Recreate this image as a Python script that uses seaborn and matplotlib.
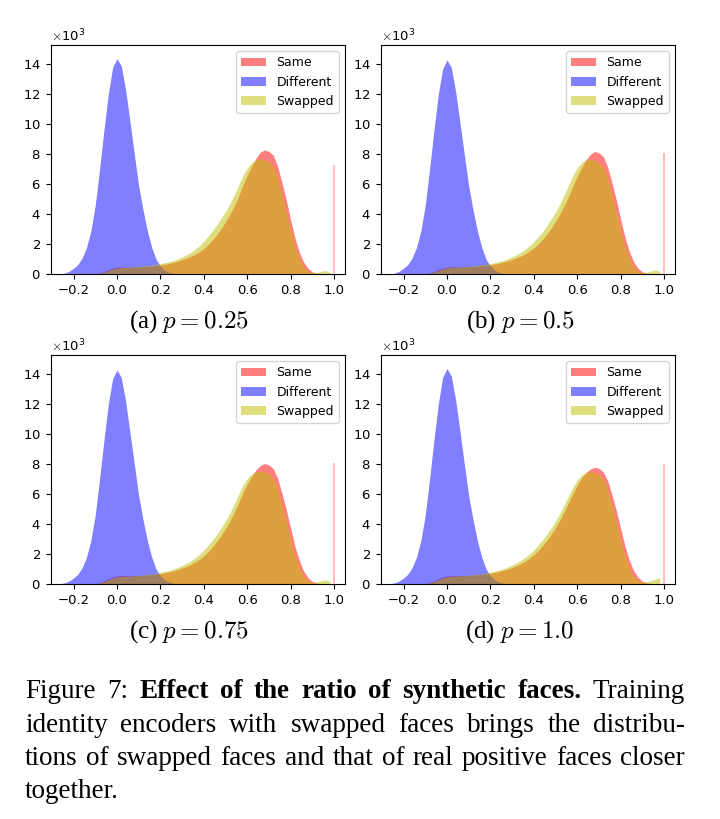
"""Figure 7 replica: cosine-similarity histograms of identity embeddings
for four ratios p of synthetic (swapped) faces."""

import numpy as np
import pandas as pd
import matplotlib
matplotlib.use('Agg')
import matplotlib.pyplot as plt
import seaborn as sns

plt.rcParams['mathtext.fontset'] = 'cm'

# ---- bin counts, in thousands -----------------------------------------------
diff_centers = np.round(np.arange(-0.26, 0.29, 0.02), 2)   # 28 bins
pos_centers = np.round(np.arange(-0.12, 0.99, 0.02), 2)    # 56 bins

different_a = [0.02, 0.08, 0.20, 0.40, 0.65, 1.10, 1.80, 2.90, 4.60, 7.00, 9.60, 12.0, 13.8, 14.4,
               13.9, 12.3, 10.2, 8.00, 5.90, 4.30, 2.90, 1.80, 1.00, 0.55, 0.28, 0.12, 0.05, 0.02]
different_b = [0.02, 0.08, 0.20, 0.40, 0.65, 1.10, 1.80, 2.90, 4.60, 7.00, 9.60, 12.0, 13.7, 14.3,
               13.8, 12.2, 10.1, 8.00, 5.90, 4.30, 2.90, 1.80, 1.00, 0.55, 0.28, 0.12, 0.05, 0.02]
different_c = [0.02, 0.08, 0.20, 0.40, 0.65, 1.10, 1.80, 2.90, 4.60, 7.00, 9.60, 12.0, 13.7, 14.3,
               13.8, 12.2, 10.1, 8.00, 5.90, 4.30, 2.90, 1.80, 1.00, 0.55, 0.28, 0.12, 0.05, 0.02]
different_d = [0.02, 0.08, 0.20, 0.40, 0.65, 1.10, 1.80, 2.90, 4.60, 7.00, 9.60, 12.0, 13.8, 14.4,
               13.9, 12.3, 10.2, 8.00, 5.90, 4.30, 2.90, 1.80, 1.00, 0.55, 0.28, 0.12, 0.05, 0.02]

same_a = [0.00, 0.03, 0.08, 0.18, 0.30, 0.40, 0.47, 0.48, 0.47, 0.47,
          0.48, 0.49, 0.50, 0.52, 0.55, 0.58, 0.62, 0.67, 0.73, 0.80,
          0.88, 0.98, 1.08, 1.20, 1.35, 1.52, 1.72, 1.98, 2.30, 2.65,
          3.05, 3.50, 4.00, 4.55, 5.20, 5.95, 6.60, 7.20, 7.75, 8.15,
          8.30, 8.20, 7.95, 7.20, 6.10, 4.95, 3.60, 2.40, 1.45, 0.80,
          0.40, 0.15, 0.06, 0.03, 0.02, 0.01]
same_b = [0.00, 0.03, 0.08, 0.18, 0.30, 0.40, 0.48, 0.50, 0.49, 0.49,
          0.50, 0.51, 0.52, 0.54, 0.57, 0.60, 0.64, 0.69, 0.75, 0.82,
          0.90, 1.00, 1.10, 1.22, 1.37, 1.55, 1.76, 2.02, 2.33, 2.68,
          3.08, 3.52, 4.02, 4.58, 5.20, 5.90, 6.55, 7.10, 7.62, 8.00,
          8.20, 8.10, 7.85, 7.15, 6.10, 4.95, 3.65, 2.45, 1.50, 0.82,
          0.40, 0.16, 0.06, 0.03, 0.02, 0.01]
same_c = [0.00, 0.03, 0.09, 0.20, 0.34, 0.46, 0.54, 0.56, 0.55, 0.55,
          0.55, 0.56, 0.57, 0.59, 0.62, 0.66, 0.70, 0.75, 0.81, 0.88,
          0.97, 1.07, 1.18, 1.31, 1.46, 1.65, 1.88, 2.15, 2.48, 2.85,
          3.25, 3.70, 4.20, 4.78, 5.42, 6.08, 6.70, 7.20, 7.62, 7.92,
          8.05, 7.95, 7.70, 7.05, 6.05, 4.95, 3.70, 2.50, 1.55, 0.85,
          0.42, 0.17, 0.07, 0.03, 0.02, 0.01]
same_d = [0.00, 0.03, 0.09, 0.20, 0.34, 0.46, 0.54, 0.56, 0.55, 0.55,
          0.56, 0.57, 0.58, 0.60, 0.63, 0.67, 0.71, 0.76, 0.83, 0.91,
          1.00, 1.10, 1.22, 1.36, 1.52, 1.72, 1.95, 2.22, 2.55, 2.92,
          3.32, 3.77, 4.27, 4.83, 5.45, 6.05, 6.62, 7.08, 7.44, 7.68,
          7.80, 7.72, 7.48, 6.90, 5.95, 4.90, 3.70, 2.52, 1.58, 0.88,
          0.44, 0.18, 0.07, 0.03, 0.02, 0.01]

# identical pairs pile up in one thin bin at similarity 1.0
spike_sim = 1.0
same_spike = [7.3, 8.1, 8.1, 8.0]

swapped_a = [0.00, 0.02, 0.06, 0.14, 0.25, 0.35, 0.42, 0.45, 0.46, 0.48,
             0.50, 0.52, 0.55, 0.58, 0.62, 0.66, 0.71, 0.77, 0.84, 0.92,
             1.03, 1.16, 1.30, 1.47, 1.68, 1.92, 2.20, 2.55, 2.90, 3.30,
             3.75, 4.20, 4.70, 5.30, 5.95, 6.60, 7.10, 7.45, 7.65, 7.70,
             7.65, 7.50, 7.20, 6.50, 5.30, 4.10, 2.90, 1.85, 1.05, 0.50,
             0.22, 0.10, 0.12, 0.20, 0.25, 0.15]
swapped_b = [0.00, 0.02, 0.06, 0.14, 0.25, 0.36, 0.44, 0.47, 0.48, 0.49,
             0.51, 0.53, 0.56, 0.59, 0.63, 0.67, 0.72, 0.78, 0.85, 0.93,
             1.04, 1.16, 1.30, 1.47, 1.67, 1.90, 2.18, 2.50, 2.85, 3.25,
             3.70, 4.15, 4.70, 5.30, 5.95, 6.60, 7.10, 7.45, 7.65, 7.70,
             7.60, 7.45, 7.15, 6.45, 5.30, 4.10, 2.90, 1.85, 1.05, 0.50,
             0.22, 0.10, 0.13, 0.22, 0.30, 0.20]
swapped_c = [0.00, 0.02, 0.07, 0.16, 0.28, 0.40, 0.48, 0.51, 0.52, 0.53,
             0.55, 0.57, 0.60, 0.63, 0.67, 0.72, 0.77, 0.84, 0.91, 1.00,
             1.11, 1.24, 1.38, 1.55, 1.75, 1.98, 2.26, 2.58, 2.93, 3.33,
             3.76, 4.22, 4.75, 5.35, 5.98, 6.60, 7.05, 7.35, 7.50, 7.55,
             7.50, 7.35, 7.05, 6.40, 5.30, 4.15, 2.95, 1.90, 1.08, 0.52,
             0.23, 0.10, 0.12, 0.20, 0.28, 0.18]
swapped_d = [0.00, 0.02, 0.07, 0.16, 0.28, 0.40, 0.48, 0.52, 0.53, 0.54,
             0.56, 0.58, 0.61, 0.64, 0.68, 0.73, 0.79, 0.86, 0.94, 1.03,
             1.14, 1.27, 1.41, 1.58, 1.78, 2.00, 2.28, 2.60, 2.95, 3.33,
             3.75, 4.20, 4.72, 5.30, 5.90, 6.48, 6.95, 7.28, 7.45, 7.50,
             7.45, 7.30, 7.00, 6.35, 5.30, 4.15, 2.95, 1.90, 1.08, 0.52,
             0.23, 0.12, 0.15, 0.24, 0.33, 0.42]

panel_labels = [r'(a) $p = 0.25$', r'(b) $p = 0.5$', r'(c) $p = 0.75$', r'(d) $p = 1.0$']
same_all = [same_a, same_b, same_c, same_d]
different_all = [different_a, different_b, different_c, different_d]
swapped_all = [swapped_a, swapped_b, swapped_c, swapped_d]

caption_lines = [
    [('Figure', 'normal'), ('7:', 'normal'), ('Effect', 'bold'), ('of', 'bold'), ('the', 'bold'),
     ('ratio', 'bold'), ('of', 'bold'), ('synthetic', 'bold'), ('faces.', 'bold'), ('Training', 'normal')],
    [(w, 'normal') for w in 'identity encoders with swapped faces brings the distribu-'.split()],
    [(w, 'normal') for w in 'tions of swapped faces and that of real positive faces closer'.split()],
    [('together.', 'normal')],
]

# ---- layout (pixel boxes of the reference) -----------------------------------
W, H = 720, 819
axes_px = [(50.7, 45, 345, 274.3), (380.7, 45, 675, 274.3),
           (50.7, 355, 345, 584), (380.7, 355, 675, 584)]
label_px = [(189, 328), (520, 328), (189, 638), (520, 638)]

fig = plt.figure(figsize=(W / 100, H / 100), dpi=100)

pos_bins = np.append(pos_centers - 0.01, pos_centers[-1] + 0.01).tolist()
diff_bins = np.append(diff_centers - 0.01, diff_centers[-1] + 0.01).tolist()

for i, (x0, y0, x1, y1) in enumerate(axes_px):
    ax = fig.add_axes([x0 / W, 1 - y1 / H, (x1 - x0) / W, (y1 - y0) / H])

    same_df = pd.DataFrame({'sim': pos_centers, 'count': np.array(same_all[i]) * 1e3})
    diff_df = pd.DataFrame({'sim': diff_centers, 'count': np.array(different_all[i]) * 1e3})
    swap_df = pd.DataFrame({'sim': pos_centers, 'count': np.array(swapped_all[i]) * 1e3})
    spike_df = pd.DataFrame({'sim': [spike_sim], 'count': [same_spike[i] * 1e3]})

    sns.histplot(data=same_df, x='sim', weights='count', bins=pos_bins, element='poly',
                 color='red', alpha=0.5, linewidth=0, label='Same', ax=ax)
    sns.histplot(data=spike_df, x='sim', weights='count',
                 bins=[spike_sim - 0.003, spike_sim + 0.003],
                 color='red', alpha=0.25, linewidth=0, ax=ax)
    sns.histplot(data=diff_df, x='sim', weights='count', bins=diff_bins, element='poly',
                 color='blue', alpha=0.5, linewidth=0, label='Different', ax=ax)
    sns.histplot(data=swap_df, x='sim', weights='count', bins=pos_bins, element='poly',
                 color='y', alpha=0.5, linewidth=0, label='Swapped', ax=ax)

    ax.set_xlim(-0.305, 1.05)
    ax.set_ylim(0, 15300)
    ax.set_xlabel('')
    ax.set_ylabel('')
    ax.ticklabel_format(axis='y', style='sci', scilimits=(3, 3), useMathText=True)
    ax.yaxis.get_offset_text().set_fontsize(9.5)
    ax.tick_params(labelsize=9.5)
    ax.legend(loc='upper right', fontsize=9)

    lx, ly = label_px[i]
    fig.text(lx / W, 1 - ly / H, panel_labels[i], ha='center', va='baseline',
             fontsize=18, family='Liberation Serif')

# ---- justified caption -------------------------------------------------------
renderer = fig.canvas.get_renderer()
left, right = 25, 685
for line, baseline in zip(caption_lines, [698, 732, 765, 798]):
    words = [fig.text(0, 1 - baseline / H, w, fontsize=19.5, family='Liberation Serif',
                      weight=wt, va='baseline') for w, wt in line]
    widths = [t.get_window_extent(renderer).width for t in words]
    if len(words) > 1:
        gap = (right - left - sum(widths)) / (len(words) - 1)
    else:
        gap = 0
    x = left
    for t, w in zip(words, widths):
        t.set_x(x / W)
        x += w + gap

fig.savefig('out.png', dpi=100)
